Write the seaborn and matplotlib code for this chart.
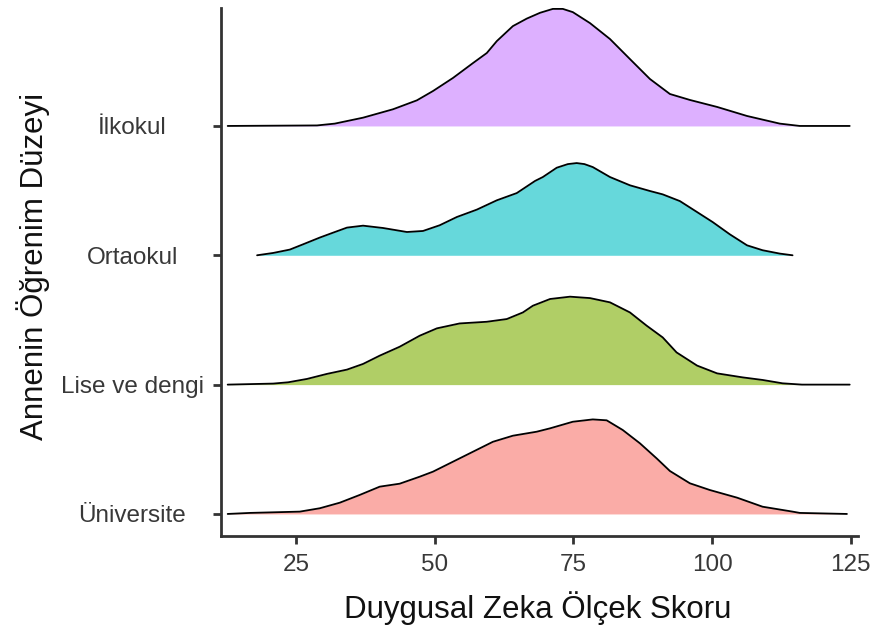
import numpy as np
import pandas as pd
import matplotlib
matplotlib.use("Agg")
import matplotlib.pyplot as plt
import seaborn as sns

# groups from bottom to top
groups = ["Üniversite", "Lise ve dengi", "Ortaokul", "İlkokul"]
colors = ["#F8766D", "#7CAE00", "#00BFC4", "#C77CFF"]

# score values and ridge heights (fraction of row spacing)
ilk_x = [12.7, 28.8, 32.0, 37.1, 42.5, 46.8, 49.7, 53.3, 56.9, 59.4, 61.2, 64.1, 66.6, 69.0,
         71.3, 73.1, 74.9, 78.0, 81.6, 85.2, 88.8, 92.4, 96.0, 100.9, 106.3, 112.2, 115.8, 124.8]
ilk_h = [0.0, 0.004, 0.018, 0.064, 0.129, 0.198, 0.270, 0.371, 0.486, 0.564, 0.656, 0.772, 0.830,
         0.875, 0.905, 0.905, 0.880, 0.795, 0.672, 0.517, 0.363, 0.247, 0.201, 0.147, 0.077,
         0.018, 0.0, 0.0]

orta_x = [18.0, 20.9, 23.9, 26.3, 29.3, 31.7, 34.2, 37.1, 40.7, 45.0, 47.9, 50.9, 54.0, 57.6,
          61.2, 64.8, 68.1, 69.5, 72.0, 74.0, 75.6, 77.0, 78.5, 81.6, 85.2, 88.8, 91.1, 94.2,
          97.3, 100.1, 103.2, 106.3, 109.1, 112.2, 114.5]
orta_h = [0.0, 0.018, 0.044, 0.085, 0.137, 0.175, 0.214, 0.229, 0.211, 0.180, 0.188, 0.232, 0.296,
          0.353, 0.425, 0.481, 0.575, 0.605, 0.677, 0.705, 0.713, 0.705, 0.682, 0.605, 0.541,
          0.497, 0.471, 0.419, 0.334, 0.257, 0.162, 0.077, 0.039, 0.013, 0.0]

lise_x = [12.7, 20.9, 23.6, 27.0, 30.6, 34.2, 37.1, 40.1, 43.7, 47.3, 50.4, 54.5, 59.4, 63.0,
          65.9, 67.7, 70.8, 74.4, 78.0, 81.6, 85.2, 88.2, 91.1, 93.6, 97.3, 100.9, 105.5, 109.1,
          112.7, 116.2, 124.8]
lise_h = [0.0, 0.008, 0.018, 0.044, 0.083, 0.116, 0.160, 0.224, 0.293, 0.378, 0.435, 0.473, 0.486,
          0.507, 0.558, 0.610, 0.662, 0.680, 0.669, 0.636, 0.558, 0.456, 0.365, 0.249, 0.147,
          0.087, 0.056, 0.036, 0.010, 0.0, 0.0]

uni_x = [12.7, 16.7, 25.7, 29.3, 32.9, 36.5, 40.1, 43.7, 47.3, 49.7, 53.3, 56.9, 60.5, 64.1,
         68.4, 70.8, 74.9, 78.5, 81.0, 83.9, 87.0, 90.0, 92.4, 96.0, 99.6, 104.5, 109.1, 114.5,
         115.8, 124.3]
uni_h = [0.0, 0.008, 0.018, 0.044, 0.087, 0.147, 0.211, 0.234, 0.288, 0.327, 0.404, 0.481, 0.558,
         0.605, 0.636, 0.662, 0.713, 0.731, 0.724, 0.649, 0.546, 0.430, 0.332, 0.237, 0.185,
         0.126, 0.056, 0.018, 0.008, 0.0]

x_ticks = [25, 50, 75, 100, 125]

curves = {
    "Üniversite": (uni_x, uni_h),
    "Lise ve dengi": (lise_x, lise_h),
    "Ortaokul": (orta_x, orta_h),
    "İlkokul": (ilk_x, ilk_h),
}

rows = []
for pos, g in enumerate(groups):
    xs, hs = curves[g]
    for x, h in zip(xs, hs):
        rows.append({"grup": g, "skor": x, "yukseklik": h, "y": pos + h, "taban": pos})
df = pd.DataFrame(rows)

sns.set_theme(style="ticks")
plt.rcParams["font.family"] = ["Liberation Sans", "DejaVu Sans"]

fig = plt.figure(figsize=(8.75, 6.35), dpi=100)
ax = fig.add_axes([0.2526, 0.156, 0.728, 0.831])

# top ridge first so lower ones sit over it
for pos in range(len(groups) - 1, -1, -1):
    g = groups[pos]
    d = df[df["grup"] == g]
    ax.fill_between(d["skor"], d["taban"], d["y"], color=colors[pos], alpha=0.6, lw=0, zorder=2 + (3 - pos))
    sns.lineplot(data=d, x="skor", y="y", color="black", lw=1.3, sort=False,
                 estimator=None, ax=ax, zorder=2.5 + (3 - pos))

ax.set_xlim(11.5, 126.3)
ax.set_ylim(-0.17, 3.91)
ax.set_xticks(x_ticks)
ax.set_xticklabels([str(t) for t in x_ticks])
ax.set_yticks(range(len(groups)))
ax.set_yticklabels(groups, ha="center")

for s in ["top", "right"]:
    ax.spines[s].set_visible(False)
for s in ["left", "bottom"]:
    ax.spines[s].set_color("#333333")
    ax.spines[s].set_linewidth(2.0)

ax.tick_params(axis="both", colors="#333333", width=2.0, length=6,
               labelsize=17.5, labelcolor="#383838")
ax.tick_params(axis="y", pad=58)
ax.tick_params(axis="x", pad=7)

ax.set_xlabel("Duygusal Zeka Ölçek Skoru", fontsize=22.5, color="#111111")
ax.set_ylabel("Annenin Öğrenim Düzeyi", fontsize=22.5, color="#111111")
ax.xaxis.set_label_coords(0.497, -0.136)
ax.xaxis.label.set_va("center")
ax.yaxis.set_label_coords(-0.295, 0.51)
ax.yaxis.label.set_va("center")

fig.savefig("out.png", dpi=100)
